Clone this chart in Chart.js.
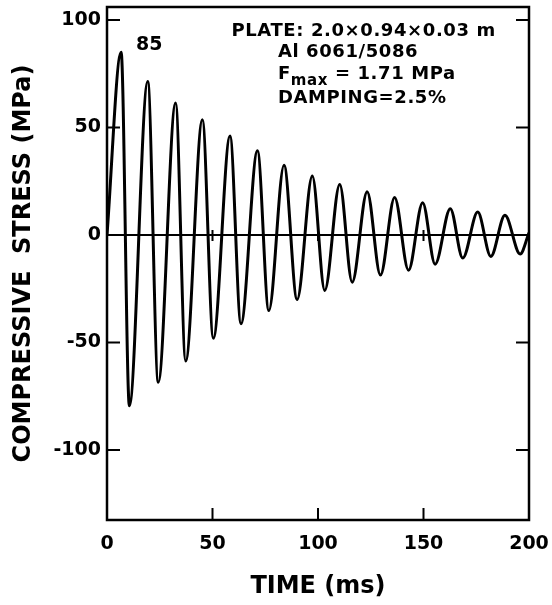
<!DOCTYPE html>
<html lang="en">
<head>
<meta charset="UTF-8">
<title>Compressive stress vs time</title>
<script src="https://cdn.jsdelivr.net/npm/chart.js"></script>
<style>
    html, body { margin: 0; padding: 0; background: #fff; }
    #wrap { width: 552px; height: 605px; position: relative; }
</style>
</head>
<body>
<div id="wrap"><canvas id="stressChart"></canvas></div>
<script>
// start point, then alternating peaks and troughs
const timeMs = [0, 6.7, 10.6, 19.3, 24.3, 32.5, 37.3, 45.2, 50.4, 58.3, 63.5, 71.3, 76.7, 83.9, 90.1,
    97.3, 103.2, 110.3, 116.2, 123.3, 129.6, 136.3, 142.9, 149.6, 155.5, 162.7, 168.6, 175.7, 181.9,
    188.6, 195.8, 200];
const stressMPa = [0, 85, -79.5, 71.4, -68.5, 61.4, -58.6, 53.6, -48.1, 46.0, -41.3, 39.1, -35.2, 32.4, -30.1,
    27.4, -25.8, 23.5, -22.0, 20.1, -18.7, 17.4, -16.4, 15.0, -13.6, 12.2, -10.8, 10.6, -10.0,
    9.1, -8.9, 1];
const xTicks = [0, 50, 100, 150, 200];
const yTicks = [-100, -50, 0, 50, 100];
const peakNote = { text: '85', t: 20, v: 88.5 };
const notes = [
    { text: 'PLATE: 2.0×0.94×0.03 m', t: 59, v: 94.7 },
    { text: 'Al 6061/5086', t: 81, v: 84.9 },
    { text: 'F', sub: 'max', rest: ' = 1.71 MPa', t: 81, v: 74.9 },
    { text: 'DAMPING=2.5%', t: 81, v: 63.3 }
];

const FONT = '"DejaVu Sans", sans-serif';

// box, inward tick marks and the text notes
const framePlugin = {
    id: 'frame',
    afterDraw(chart) {
        const { ctx, chartArea: a, scales: { x, y } } = chart;
        ctx.save();
        ctx.strokeStyle = '#000';
        ctx.lineWidth = 2.5;
        ctx.strokeRect(a.left, a.top, a.right - a.left, a.bottom - a.top);

        ctx.lineWidth = 2;
        ctx.beginPath();
        const y0 = y.getPixelForValue(0);
        yTicks.forEach(v => {
            const py = y.getPixelForValue(v);
            ctx.moveTo(a.left, py); ctx.lineTo(a.left + 13, py);
            ctx.moveTo(a.right, py); ctx.lineTo(a.right - 13, py);
        });
        xTicks.slice(1, -1).forEach(v => {
            const px = x.getPixelForValue(v);
            ctx.moveTo(px, a.bottom); ctx.lineTo(px, a.bottom - 12);
            ctx.moveTo(px, y0 - 5); ctx.lineTo(px, y0 + 6);
        });
        ctx.stroke();

        ctx.fillStyle = '#000';
        ctx.textBaseline = 'middle';
        ctx.textAlign = 'center';
        ctx.font = 'bold 19px ' + FONT;
        ctx.fillText(peakNote.text, x.getPixelForValue(peakNote.t), y.getPixelForValue(peakNote.v));

        ctx.textAlign = 'left';
        ctx.letterSpacing = '0.6px';
        notes.forEach(n => {
            let px = x.getPixelForValue(n.t);
            const py = y.getPixelForValue(n.v);
            ctx.font = 'bold 18px ' + FONT;
            ctx.fillText(n.text, px, py);
            if (n.sub) {
                px += ctx.measureText(n.text).width;
                ctx.font = 'bold 15px ' + FONT;
                ctx.fillText(n.sub, px, py + 7);
                px += ctx.measureText(n.sub).width;
                ctx.font = 'bold 18px ' + FONT;
                ctx.fillText(n.rest, px, py);
            }
        });
        ctx.restore();
    }
};

new Chart(document.getElementById('stressChart'), {
    type: 'line',
    data: {
        datasets: [{
            data: timeMs.map((t, i) => ({ x: t, y: stressMPa[i] })),
            borderColor: '#000',
            borderWidth: 3,
            pointRadius: 0,
            fill: false,
            cubicInterpolationMode: 'monotone'
        }]
    },
    options: {
        responsive: true,
        maintainAspectRatio: false,
        animation: false,
        layout: { padding: { top: 7, right: 23, left: 0, bottom: 0 } },
        plugins: { legend: { display: false }, tooltip: { enabled: false } },
        scales: {
            x: {
                type: 'linear',
                min: 0,
                max: 200,
                afterBuildTicks: s => { s.ticks = xTicks.map(v => ({ value: v })); },
                afterFit: s => { s.height = 85; s.paddingLeft = 0; s.paddingRight = 0; },
                grid: { display: false, drawTicks: false },
                border: { display: false },
                ticks: { color: '#000', padding: 13, maxRotation: 0, font: { family: FONT, size: 19, weight: 'bold' } },
                title: {
                    display: true,
                    text: 'TIME (ms)',
                    color: '#000',
                    font: { family: FONT, size: 24, weight: 'bold' },
                    padding: { top: 0, bottom: 4 }
                }
            },
            y: {
                min: -132.6,
                max: 106,
                afterBuildTicks: s => { s.ticks = yTicks.map(v => ({ value: v })); },
                afterFit: s => { s.width = 107; s.paddingTop = 0; s.paddingBottom = 0; },
                grid: {
                    drawTicks: false,
                    color: c => c.tick && c.tick.value === 0 ? '#000' : 'rgba(0,0,0,0)',
                    lineWidth: 2
                },
                border: { display: false },
                ticks: { color: '#000', padding: 6, font: { family: FONT, size: 19, weight: 'bold' } },
                title: {
                    display: true,
                    text: 'COMPRESSIVE  STRESS (MPa)',
                    color: '#000',
                    font: { family: FONT, size: 24, weight: 'bold' },
                    padding: { top: 9, bottom: 0 }
                }
            }
        }
    },
    plugins: [framePlugin]
});
</script>
</body>
</html>
